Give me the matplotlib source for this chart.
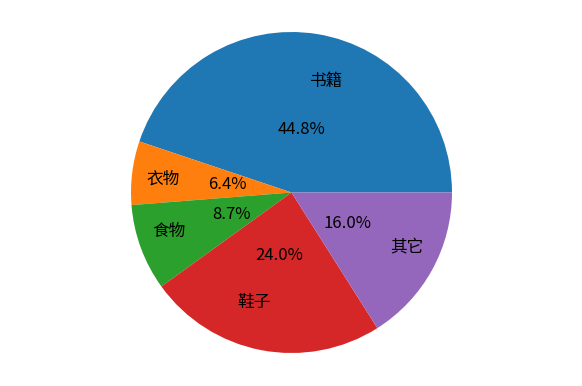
import matplotlib
matplotlib.use("Agg")
import matplotlib.pyplot as plt

plt.rcParams['font.family'] = ['Noto Sans CJK SC', 'DejaVu Sans']

labels = ['书籍', '衣物', '食物', '鞋子', '其它']
values = [44.8, 6.4, 8.7, 24.0, 16.0]

fig = plt.figure(figsize=(5.82, 3.86), dpi=100)
# square axes so the pie is about 321 px across, centred in the figure
ax = fig.add_axes([131 / 582, 33 / 386, 321 / 582, 321 / 386])

wedges, texts, autotexts = ax.pie(values, labels=labels, autopct='%1.1f%%',
                                  labeldistance=0.7, pctdistance=0.4,
                                  textprops={'fontsize': 12})

ax.set_xlim(-1, 1)
ax.set_ylim(-1, 1)
ax.set_aspect('equal')

fig.savefig('out.png', dpi=100)
